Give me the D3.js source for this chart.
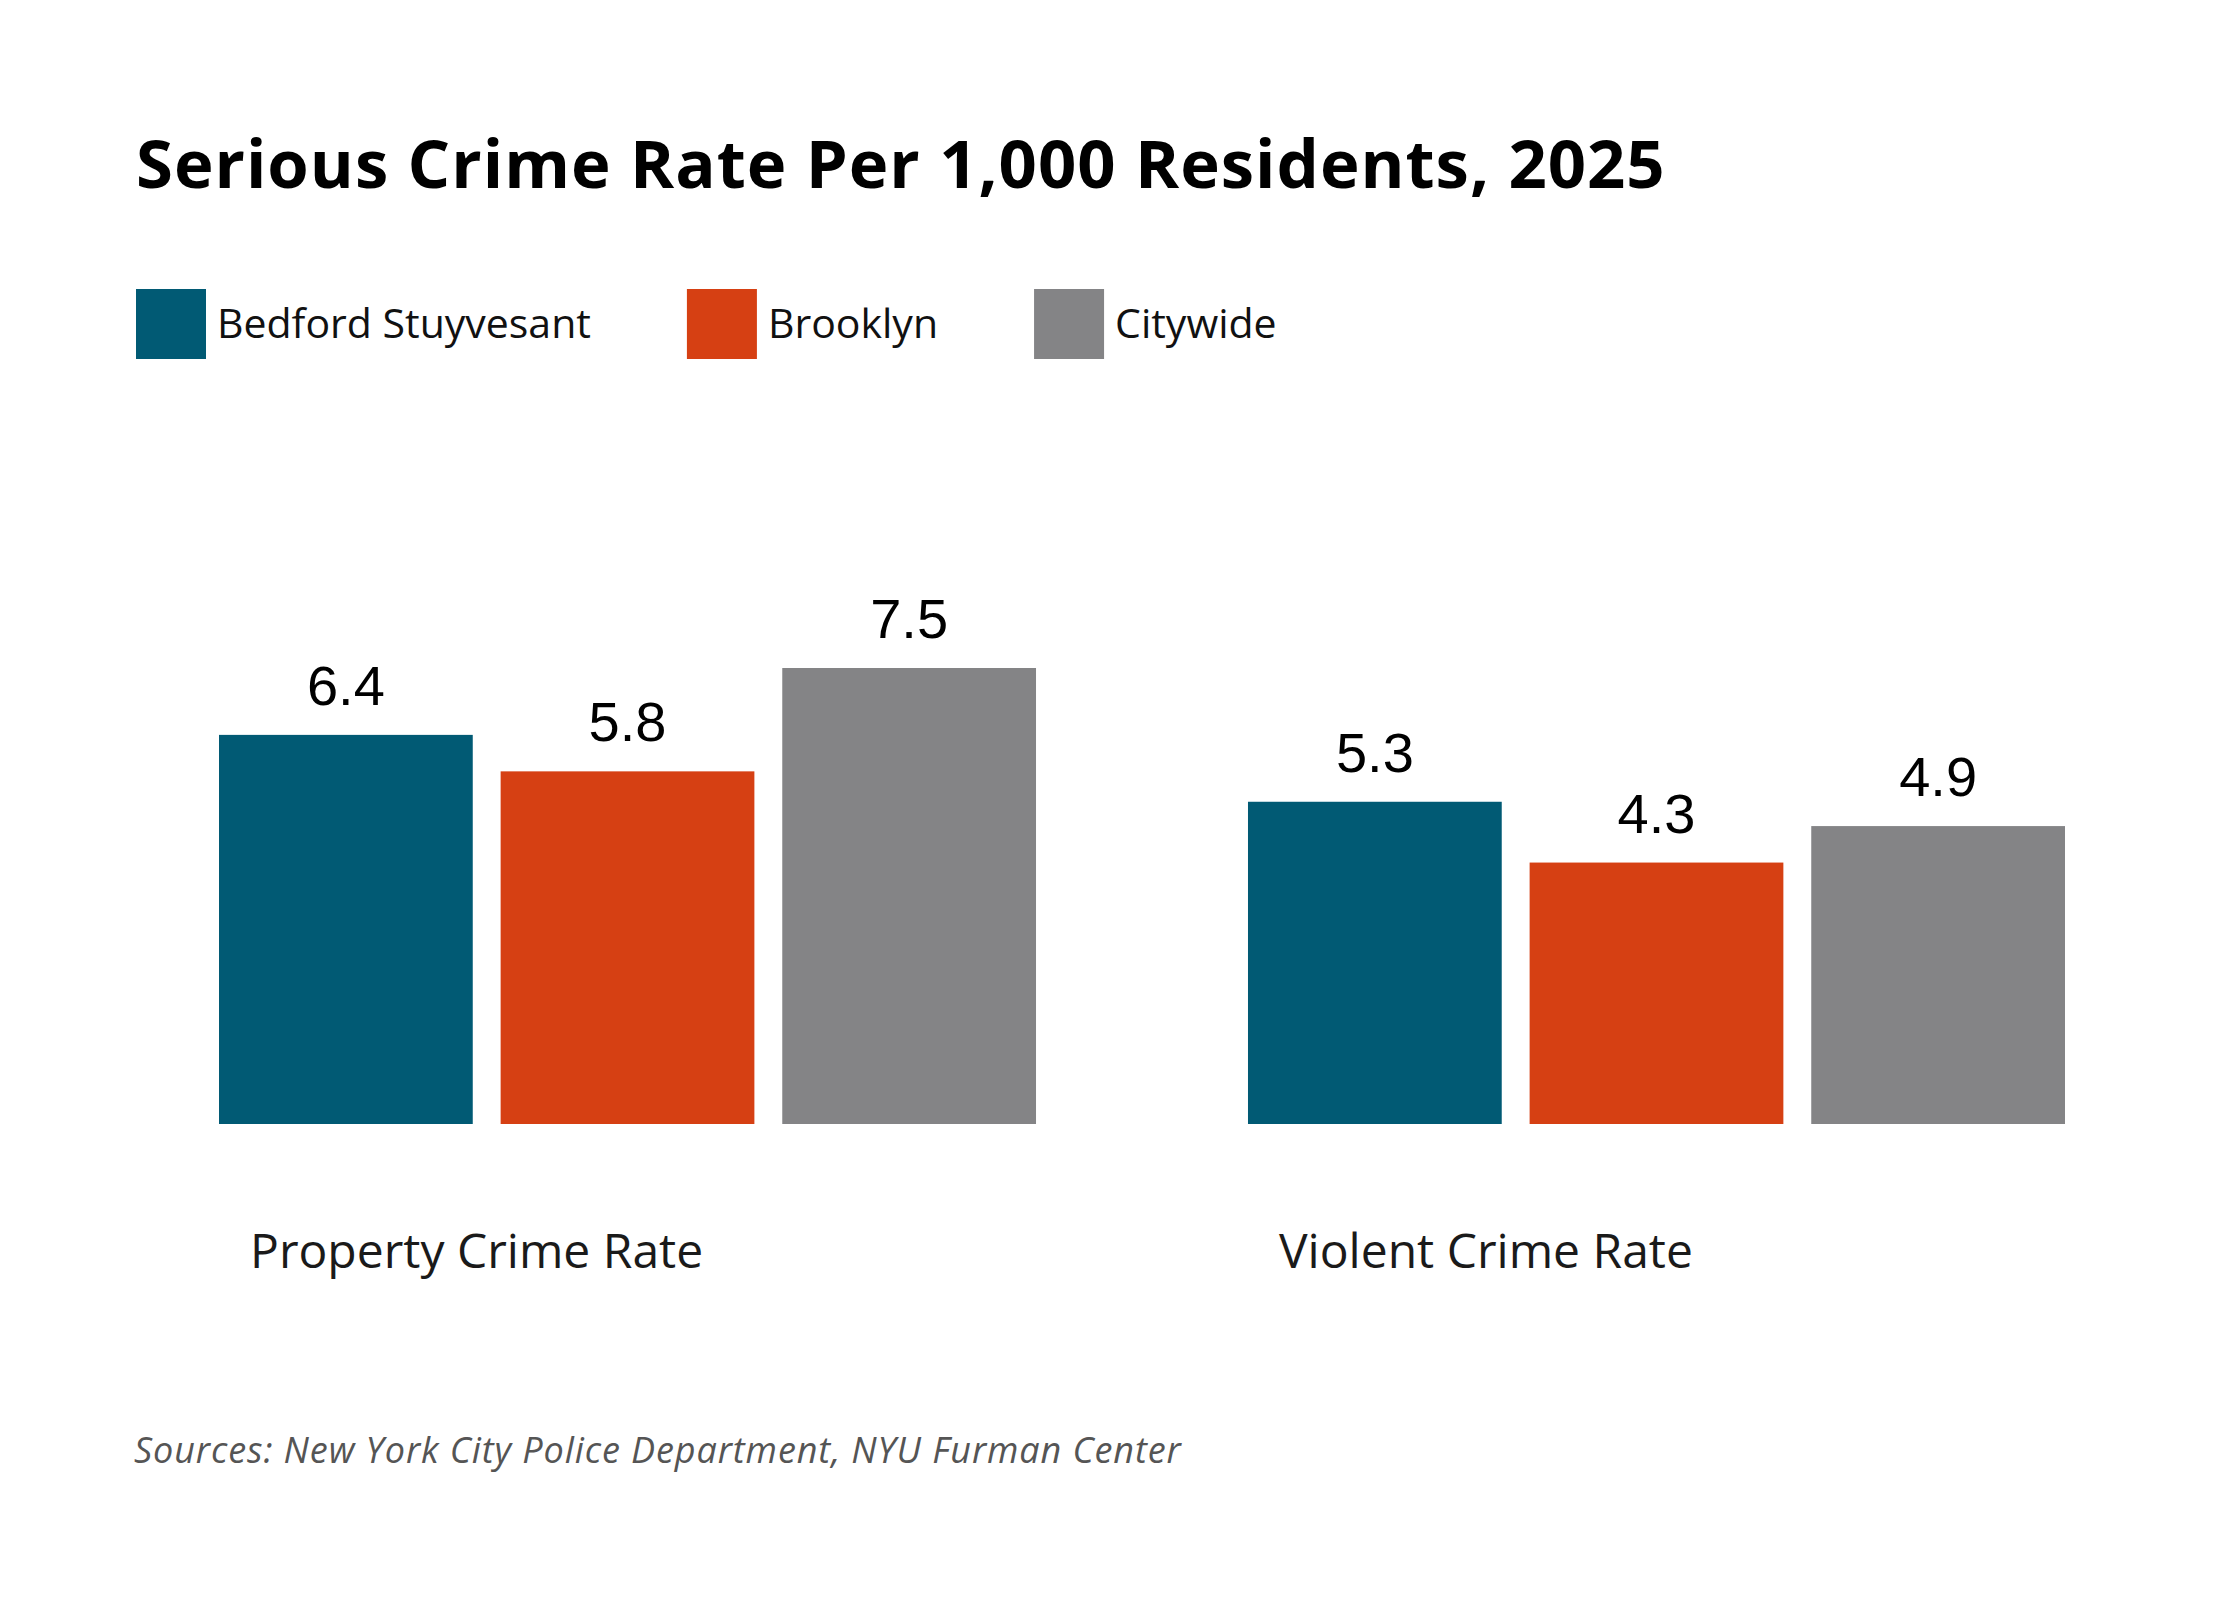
<!DOCTYPE html>
<html>
<head>
<meta charset="utf-8">
<title>Serious Crime Rate Per 1,000 Residents, 2025</title>
<script src="https://cdn.jsdelivr.net/npm/d3@7"></script>
<style>
  body { margin: 0; background: #fff; }
</style>
</head>
<body>
<div id="chart-area"></div>
<script>
// Data
const categories = ["Property Crime Rate", "Violent Crime Rate"]
const seriesNames = ["Bedford Stuyvesant", "Brooklyn", "Citywide"]
const bedfordStuyvesant = [6.4, 5.3]
const brooklyn = [5.8, 4.3]
const citywide = [7.5, 4.9]
const seriesValues = [bedfordStuyvesant, brooklyn, citywide]
const colors = ["#015a74", "#d64013", "#848486"]

const WIDTH = 2240
const HEIGHT = 1600

const svg = d3.select("#chart-area").append("svg")
    .attr("width", WIDTH)
    .attr("height", HEIGHT)

svg.append("rect")
    .attr("width", WIDTH)
    .attr("height", HEIGHT)
    .attr("fill", "#fff")

// Title
svg.append("text")
    .attr("x", 136)
    .attr("y", 188)
    .attr("font-family", "'Open Sans', sans-serif")
    .attr("font-weight", 700)
    .attr("font-size", "67px")
    .attr("letter-spacing", "1px")
    .attr("fill", "#000")
    .text("Serious Crime Rate Per 1,000 Residents, 2025")

// Legend
const legend = svg.append("g").attr("class", "legend")
let legendX = 136
seriesNames.forEach((name, i) => {
    legend.append("rect")
        .attr("x", legendX)
        .attr("y", 289)
        .attr("width", 70)
        .attr("height", 70)
        .attr("fill", colors[i])
    const label = legend.append("text")
        .attr("x", legendX + 81)
        .attr("y", 338)
        .attr("font-family", "'Open Sans', sans-serif")
        .attr("font-size", "41px")
        .attr("fill", "#111")
        .text(name)
    legendX += 81 + label.node().getComputedTextLength() + 96
})

// Scales
const x0 = d3.scaleBand()
    .domain(categories)
    .range([219, 2065])
    .paddingInner(0.206)

const x1 = d3.scaleBand()
    .domain(seriesNames)
    .range([0, x0.bandwidth()])
    .paddingInner(0.099)

const y = d3.scaleLinear()
    .domain([0, 7.5])
    .range([1124, 668])

const rows = categories.map((cat, ci) => ({
    cat: cat,
    values: seriesNames.map((s, si) => ({ series: s, index: si, value: seriesValues[si][ci] }))
}))

const groups = svg.selectAll(".group")
    .data(rows)
    .enter().append("g")
    .attr("class", "group")
    .attr("transform", d => `translate(${x0(d.cat)}, 0)`)

// Bars
groups.selectAll("rect")
    .data(d => d.values)
    .enter().append("rect")
    .attr("x", d => x1(d.series))
    .attr("y", d => y(d.value))
    .attr("width", x1.bandwidth())
    .attr("height", d => y(0) - y(d.value))
    .attr("fill", d => colors[d.index])

// Value labels
groups.selectAll(".value")
    .data(d => d.values)
    .enter().append("text")
    .attr("class", "value")
    .attr("x", d => x1(d.series) + x1.bandwidth() / 2)
    .attr("y", d => y(d.value) - 30)
    .attr("text-anchor", "middle")
    .attr("font-family", "'Liberation Sans', Arial, sans-serif")
    .attr("font-size", "56px")
    .attr("fill", "#000")
    .text(d => d.value.toFixed(1))

// Category labels
groups.append("text")
    .attr("x", 31)
    .attr("y", 1268)
    .attr("font-family", "'Open Sans', sans-serif")
    .attr("font-size", "48px")
    .attr("fill", "#1a1a1a")
    .text(d => d.cat)

// Source
svg.append("text")
    .attr("x", 134)
    .attr("y", 1463)
    .attr("font-family", "'Open Sans', sans-serif")
    .attr("font-style", "italic")
    .attr("font-size", "36px")
    .attr("letter-spacing", "0.9px")
    .attr("fill", "#555")
    .text("Sources: New York City Police Department, NYU Furman Center")
</script>
</body>
</html>
